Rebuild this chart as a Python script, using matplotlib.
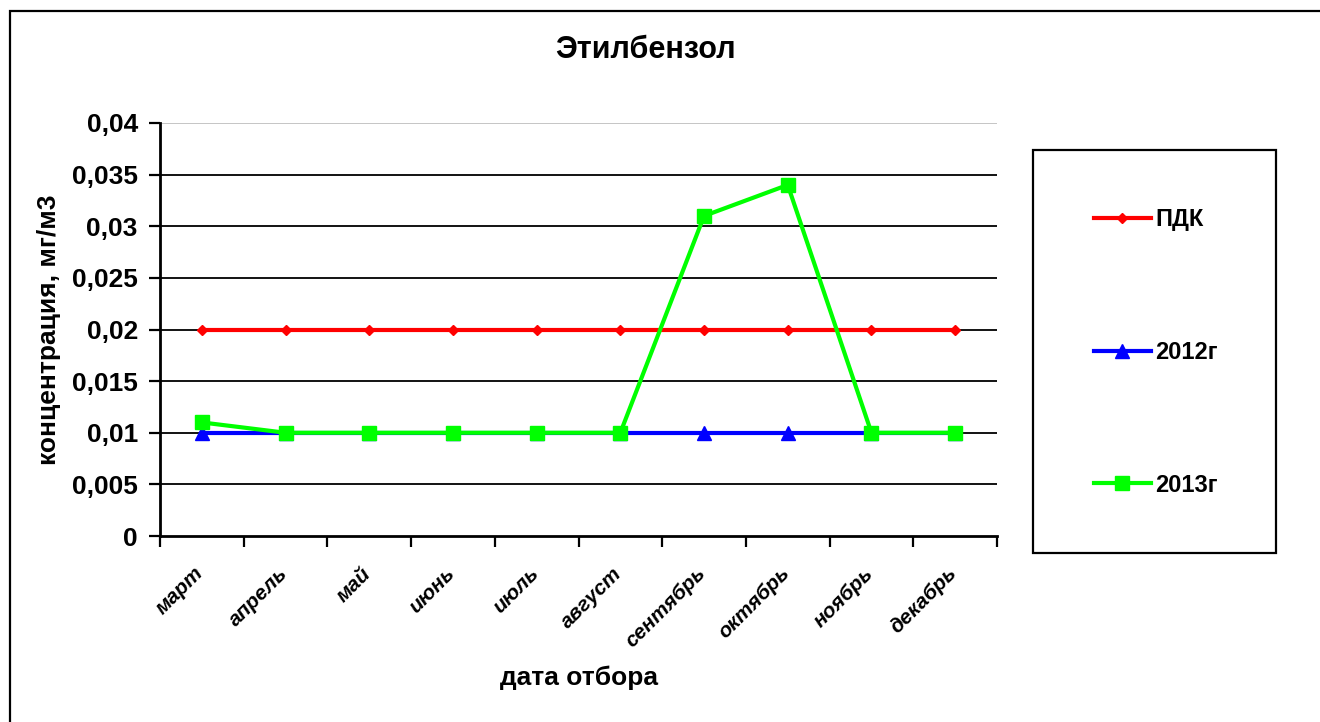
import matplotlib
matplotlib.use("Agg")
import matplotlib.pyplot as plt
import matplotlib.transforms as mtransforms
from matplotlib.patches import Rectangle
from matplotlib.lines import Line2D

months = ["март", "апрель", "май", "июнь", "июль", "август",
          "сентябрь", "октябрь", "ноябрь", "декабрь"]
pdk = [0.02] * 10
y2012 = [0.01, 0.01, 0.01, 0.01, 0.01, 0.01, 0.01, 0.01, 0.01, 0.01]
y2013 = [0.011, 0.01, 0.01, 0.01, 0.01, 0.01, 0.031, 0.034, 0.01, 0.01]
y_ticks = [0, 0.005, 0.01, 0.015, 0.02, 0.025, 0.03, 0.035, 0.04]
y_tick_labels = ["0", "0,005", "0,01", "0,015", "0,02", "0,025", "0,03", "0,035", "0,04"]

plt.rcParams["font.family"] = ["Liberation Sans", "DejaVu Sans"]
plt.rcParams["font.weight"] = "bold"

W, H = 1320, 722
fig = plt.figure(figsize=(W / 100, H / 100), dpi=100)
fig.patch.set_facecolor("white")

# outer chart border
fig.patches.append(Rectangle((10 / W, -0.05), 1.2, 1 - 11 / H + 0.05,
                             transform=fig.transFigure, fill=False,
                             edgecolor="black", linewidth=1.6))

ax = fig.add_axes([160 / W, 1 - 536 / H, (997 - 160) / W, (536 - 123) / H])
x = [i + 0.5 for i in range(len(months))]

for v in y_ticks[1:-1]:
    ax.axhline(v, color="black", linewidth=1.3, zorder=1)
ax.axhline(0.04, color="#c0c0c0", linewidth=1.3, zorder=1)

ax.plot(x, pdk, color="#ff0000", linewidth=3, marker="D", markersize=5.5, zorder=3)
ax.plot(x, y2012, color="#0000ff", linewidth=3, marker="^", markersize=10, zorder=4)
ax.plot(x, y2013, color="#00ff00", linewidth=3, marker="s", markersize=10, zorder=5)

ax.set_xlim(0, len(months))
ax.set_ylim(0, 0.04)
ax.set_yticks(y_ticks)
ax.set_yticklabels(y_tick_labels, fontsize=19, fontweight="bold")
ax.set_xticks(range(len(months) + 1))
ax.set_xticklabels([])
ax.set_xticks(x, minor=True)
ax.set_xticklabels(months, minor=True, rotation=45, ha="right", va="top",
                   rotation_mode="anchor", fontsize=15, fontweight="bold",
                   fontstyle="italic")
ax.tick_params(axis="x", which="minor", length=0, pad=20)
ax.tick_params(axis="both", which="major", direction="out", length=8, width=1.6)
ax.tick_params(axis="y", pad=8)

# shift the rotated month labels a little to the left, as in the original
shift = mtransforms.ScaledTranslation(-8 / 100, 0, fig.dpi_scale_trans)
for lab in ax.xaxis.get_minorticklabels():
    lab.set_transform(lab.get_transform() + shift)

for s in ["top", "right"]:
    ax.spines[s].set_visible(False)
for s in ["left", "bottom"]:
    ax.spines[s].set_linewidth(2)

ax.set_ylabel("концентрация, мг/м3", fontsize=19, fontweight="bold", labelpad=8)
ax.set_xlabel("дата отбора", fontsize=19, fontweight="bold", labelpad=10)

fig.text(645 / W, 1 - 50 / H, "Этилбензол", ha="center", va="center",
         fontsize=22, fontweight="bold")

# legend box
fig.patches.append(Rectangle((1033 / W, 1 - 553 / H), (1276 - 1033) / W,
                             (553 - 150) / H, transform=fig.transFigure,
                             fill=False, edgecolor="black", linewidth=1.6))
handles = [
    Line2D([], [], color="#ff0000", linewidth=3, marker="D", markersize=5.5),
    Line2D([], [], color="#0000ff", linewidth=3, marker="^", markersize=10),
    Line2D([], [], color="#00ff00", linewidth=3, marker="s", markersize=10),
]
fig.legend(handles, ["ПДК", "2012г", "2013г"], loc="upper left",
           bbox_to_anchor=(1094 / W, 1 - 208 / H), frameon=False,
           prop={"size": 17, "weight": "bold"}, labelspacing=4.65,
           handlelength=2.4, handletextpad=0.2, borderpad=0, borderaxespad=0)

fig.savefig("out.png", dpi=100)
